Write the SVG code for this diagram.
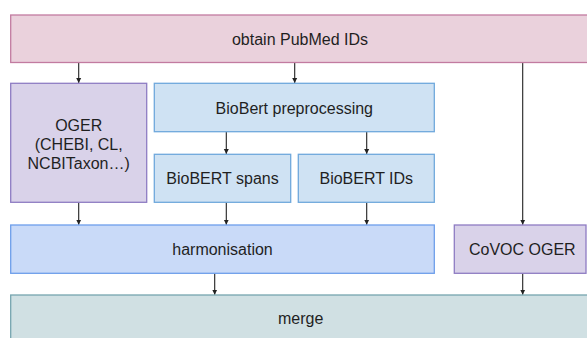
<svg xmlns="http://www.w3.org/2000/svg" width="587" height="338" viewBox="0 0 587 338">
<style>
text{font-family:"Liberation Sans",Arial,sans-serif;font-size:16px;fill:#1f1f1f;text-anchor:middle}
.pink{fill:#ead1dc;stroke:#c27ba0}
.purple{fill:#d9d2e9;stroke:#8e7cc3}
.lblue{fill:#cfe2f3;stroke:#6fa8dc}
.blue{fill:#c9daf8;stroke:#6d9eeb}
.teal{fill:#d0e0e3;stroke:#76a5af}
rect{stroke-width:1.3}
.c line{stroke:#222;stroke-width:1.1}
</style>
<defs>
<marker id="ah" markerWidth="6" markerHeight="6" refX="5" refY="3" orient="auto" markerUnits="userSpaceOnUse">
<path d="M0,0.5 L5,3 L0,5.5 z" fill="#222"/>
</marker>
</defs>
<rect width="587" height="338" fill="#fff"/>
<g class="c">
<line x1="78.7" y1="62.5" x2="78.7" y2="83" marker-end="url(#ah)"/>
<line x1="294.7" y1="62.5" x2="294.7" y2="83" marker-end="url(#ah)"/>
<line x1="522.7" y1="62.5" x2="522.7" y2="224.7" marker-end="url(#ah)"/>
<line x1="226.3" y1="131.7" x2="226.3" y2="154" marker-end="url(#ah)"/>
<line x1="366.7" y1="131.7" x2="366.7" y2="154" marker-end="url(#ah)"/>
<line x1="78.7" y1="202.3" x2="78.7" y2="224.7" marker-end="url(#ah)"/>
<line x1="226.3" y1="202.3" x2="226.3" y2="224.7" marker-end="url(#ah)"/>
<line x1="366.7" y1="202.3" x2="366.7" y2="224.7" marker-end="url(#ah)"/>
<line x1="214.7" y1="273.3" x2="214.7" y2="294.7" marker-end="url(#ah)"/>
<line x1="522.7" y1="273.3" x2="522.7" y2="294.7" marker-end="url(#ah)"/>
</g>
<g id="pubmed"><rect class="pink" x="10.7" y="15" width="590" height="47.5"/><text x="300" y="44.5">obtain PubMed IDs</text></g>
<g id="oger"><rect class="purple" x="10.7" y="83.3" width="136" height="119"/><text x="78.7" y="131">OGER</text><text x="78.7" y="150">(CHEBI, CL,</text><text x="78.7" y="169.3">NCBITaxon…)</text></g>
<g id="preproc"><rect class="lblue" x="154.3" y="83.3" width="280" height="48.4"/><text x="294.3" y="113.5">BioBert preprocessing</text></g>
<g id="spans"><rect class="lblue" x="154.3" y="154.3" width="136.4" height="48"/><text x="222.5" y="184.3">BioBERT spans</text></g>
<g id="ids"><rect class="lblue" x="298.3" y="154.3" width="136" height="48"/><text x="366.3" y="184.3">BioBERT IDs</text></g>
<g id="harm"><rect class="blue" x="10.7" y="225" width="423.6" height="48.3"/><text x="222.5" y="255">harmonisation</text></g>
<g id="covoc"><rect class="purple" x="454.3" y="225" width="131.7" height="48.3"/><text x="522.3" y="255">CoVOC OGER</text></g>
<g id="merge"><rect class="teal" x="10.7" y="295" width="590" height="60"/><text x="300.7" y="324">merge</text></g>
</svg>
